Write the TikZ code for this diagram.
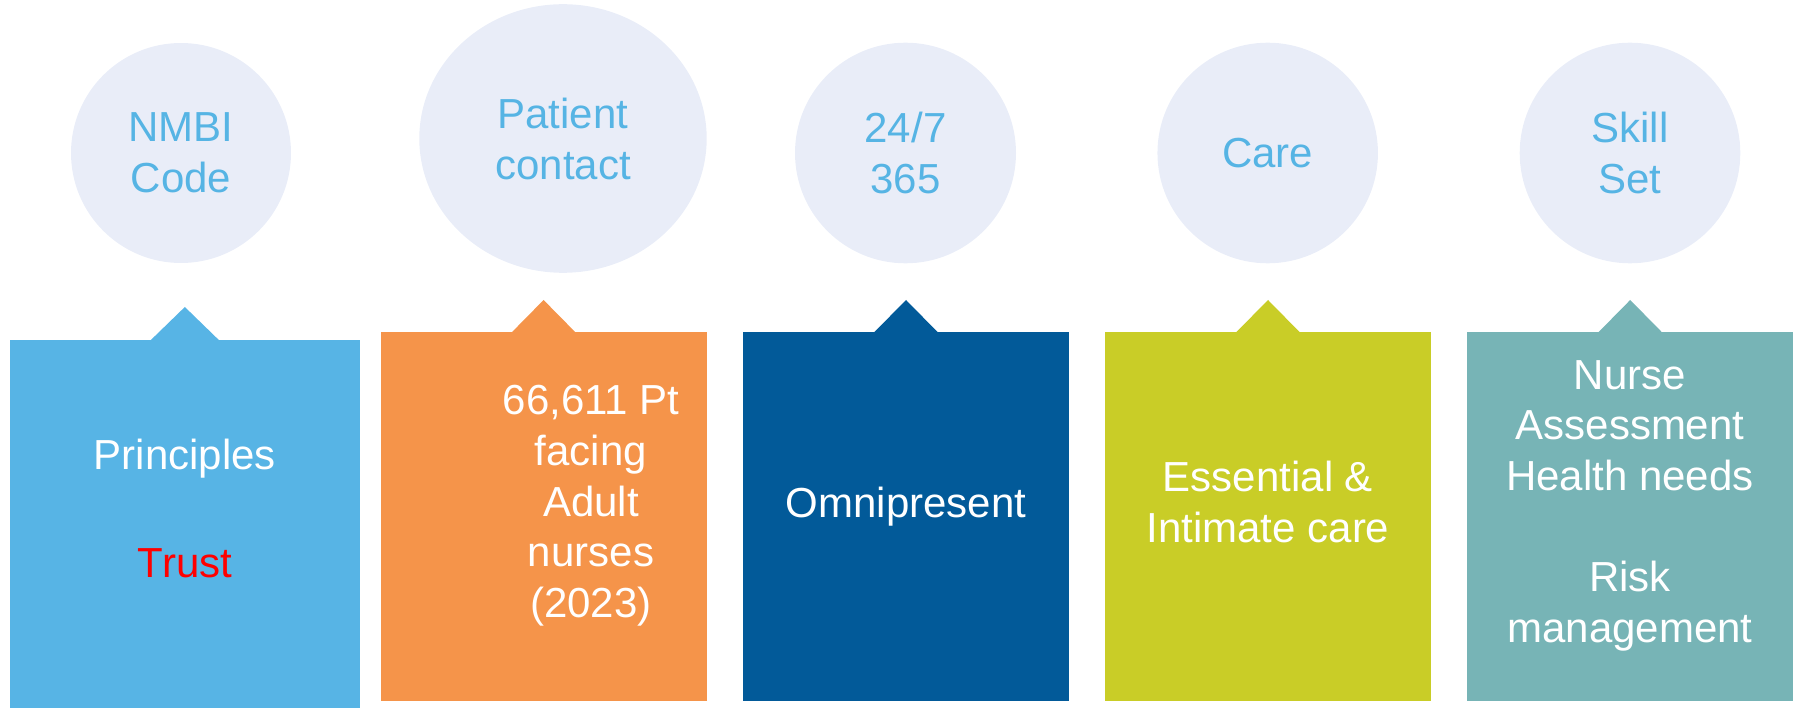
\documentclass[tikz,border=0pt]{standalone}
\usepackage{fontspec}
\setmainfont{Liberation Sans}
\usetikzlibrary{shapes.geometric}

\definecolor{bubblefill}{HTML}{E9EDF8}
\definecolor{bubbletext}{HTML}{56B4E4}
\definecolor{skyc}{HTML}{57B4E5}
\definecolor{orangec}{HTML}{F5944A}
\definecolor{navyc}{HTML}{025A99}
\definecolor{limec}{HTML}{C9CD27}
\definecolor{tealc}{HTML}{77B4B6}
\definecolor{trustred}{HTML}{FF0000}

\tikzset{
  bubble/.style={ellipse, fill=bubblefill, inner sep=0pt, text=bubbletext,
    align=center, font=\fontsize{42}{51}\selectfont},
  card/.style={rectangle, inner sep=0pt, anchor=north west,
    minimum width=326pt, minimum height=368.7pt},
  cardtext/.style={anchor=base, inner sep=0pt, text=white,
    font=\fontsize{42}{51}\selectfont},
}

\begin{document}
\begin{tikzpicture}[x=1pt,y=-1pt]
\useasboundingbox (0,0) rectangle (1800,708);

% top row: bubbles
\node[bubble, minimum width=220pt, minimum height=220pt] (c1) at (181,153) {NMBI\\Code};
\node[bubble, minimum width=287.4pt, minimum height=268.6pt] (c2) at (563,138.5) {Patient\\contact};
\node[bubble, minimum width=221pt, minimum height=220.6pt] (c3) at (905.5,153) {24/7\\365};
\node[bubble, minimum width=220.5pt, minimum height=220.6pt] (c4) at (1267.7,153) {Care};
\node[bubble, minimum width=220.6pt, minimum height=220.6pt] (c5) at (1630,153) {Skill\\Set};

% bottom row: cards with a pointer on top
\node[card, fill=skyc, minimum width=350.7pt, minimum height=368.5pt] (b1) at (9.3,340) {};
\fill[skyc] (b1.north) ++(-35,1) -- ++(35,-34) -- ++(35,34) -- cycle;

\node[card, fill=orangec] (b2) at (380.4,332) {};
\fill[orangec] (b2.north) ++(-32.5,1) -- ++(32.5,-33) -- ++(32.5,33) -- cycle;

\node[card, fill=navyc] (b3) at (742.8,332) {};
\fill[navyc] (b3.north) ++(-32.5,1) -- ++(32.5,-33) -- ++(32.5,33) -- cycle;

\node[card, fill=limec] (b4) at (1104.8,332) {};
\fill[limec] (b4.north) ++(-32.5,1) -- ++(32.5,-33) -- ++(32.5,33) -- cycle;

\node[card, fill=tealc] (b5) at (1467,332) {};
\fill[tealc] (b5.north) ++(-32.5,1) -- ++(32.5,-33) -- ++(32.5,33) -- cycle;

% card texts
\node[cardtext] (t1a) at (185,470) {Principles};
\node[cardtext, text=trustred] (t1b) at (185,577) {Trust};

\node[cardtext] (t2a) at (591,415) {66,611 Pt};
\node[cardtext] (t2b) at (591,465.5) {facing};
\node[cardtext] (t2c) at (591,516) {Adult};
\node[cardtext] (t2d) at (591,566.5) {nurses};
\node[cardtext] (t2e) at (591,617) {(2023)};

\node[cardtext] (t3a) at (906,517.3) {Omnipresent};

\node[cardtext] (t4a) at (1268,491.7) {Essential \&};
\node[cardtext] (t4b) at (1268,542.7) {Intimate care};

\node[cardtext] (t5a) at (1630,389.5) {Nurse};
\node[cardtext] (t5b) at (1630,440) {Assessment};
\node[cardtext] (t5c) at (1630,490.7) {Health needs};
\node[cardtext] (t5d) at (1630,591) {Risk};
\node[cardtext] (t5e) at (1630,642.7) {management};
\end{tikzpicture}
\end{document}
